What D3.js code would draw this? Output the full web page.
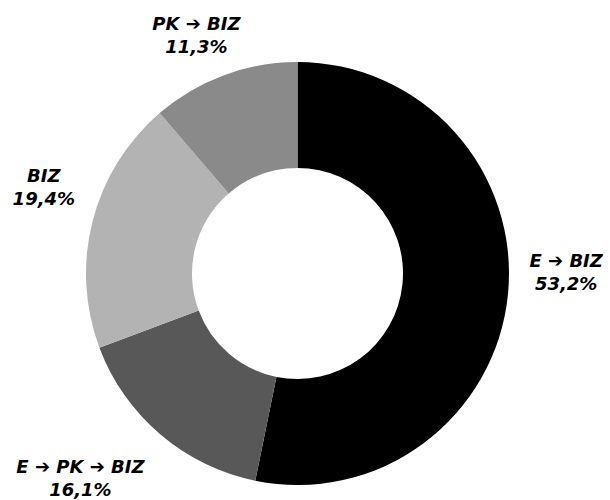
<!DOCTYPE html>
<html>
<head>
<meta charset="utf-8">
<script src="https://cdn.jsdelivr.net/npm/d3@7"></script>
<style>
  html, body { margin: 0; padding: 0; background: #ffffff; }
  svg { display: block; }
  text { font-family: "DejaVu Sans", Verdana, sans-serif; font-weight: bold; font-style: italic; }
</style>
</head>
<body>
<svg id="chart" width="610" height="500"></svg>
<script>
// Data
const categories = ["E \u2794 BIZ", "E \u2794 PK \u2794 BIZ", "BIZ", "PK \u2794 BIZ"];
const shares = [53.2, 16.1, 19.4, 11.3];
const percentLabels = ["53,2%", "16,1%", "19,4%", "11,3%"];

// Styles / layout (kept separate from data)
const colors = ["#000000", "#585858", "#b3b3b3", "#8a8a8a"];
const labelNudges = [[5, -33], [-45, -2], [3, -26], [-9, 5]];

const width = 610, height = 500;
const cx = 297.5, cy = 273.5;
const outerR = 211.5, innerR = 105.5, labelR = 265;
const lineGap = 23;

const svg = d3.select("#chart");
const g = svg.append("g").attr("transform", `translate(${cx},${cy})`);

const rows = categories.map((c, i) => ({ name: c, value: shares[i], pct: percentLabels[i], i }));

const pie = d3.pie().value(d => d.value).sort(null);
const arcs = pie(rows);

const arc = d3.arc().innerRadius(innerR).outerRadius(outerR);
const labelArc = d3.arc().innerRadius(labelR).outerRadius(labelR);

g.selectAll("path.slice")
  .data(arcs)
  .join("path")
  .attr("class", "slice")
  .attr("d", arc)
  .attr("fill", d => colors[d.data.i]);

const labels = g.selectAll("g.label")
  .data(arcs)
  .join("g")
  .attr("class", "label")
  .attr("transform", d => {
    const [x, y] = labelArc.centroid(d);
    const [nx, ny] = labelNudges[d.data.i];
    return `translate(${x + nx},${y + ny})`;
  });

labels.append("text")
  .attr("text-anchor", "middle")
  .attr("font-size", 18)
  .attr("fill", "#000")
  .text(d => d.data.name);

labels.append("text")
  .attr("text-anchor", "middle")
  .attr("font-size", 18)
  .attr("y", lineGap)
  .attr("fill", "#000")
  .text(d => d.data.pct);
</script>
</body>
</html>
